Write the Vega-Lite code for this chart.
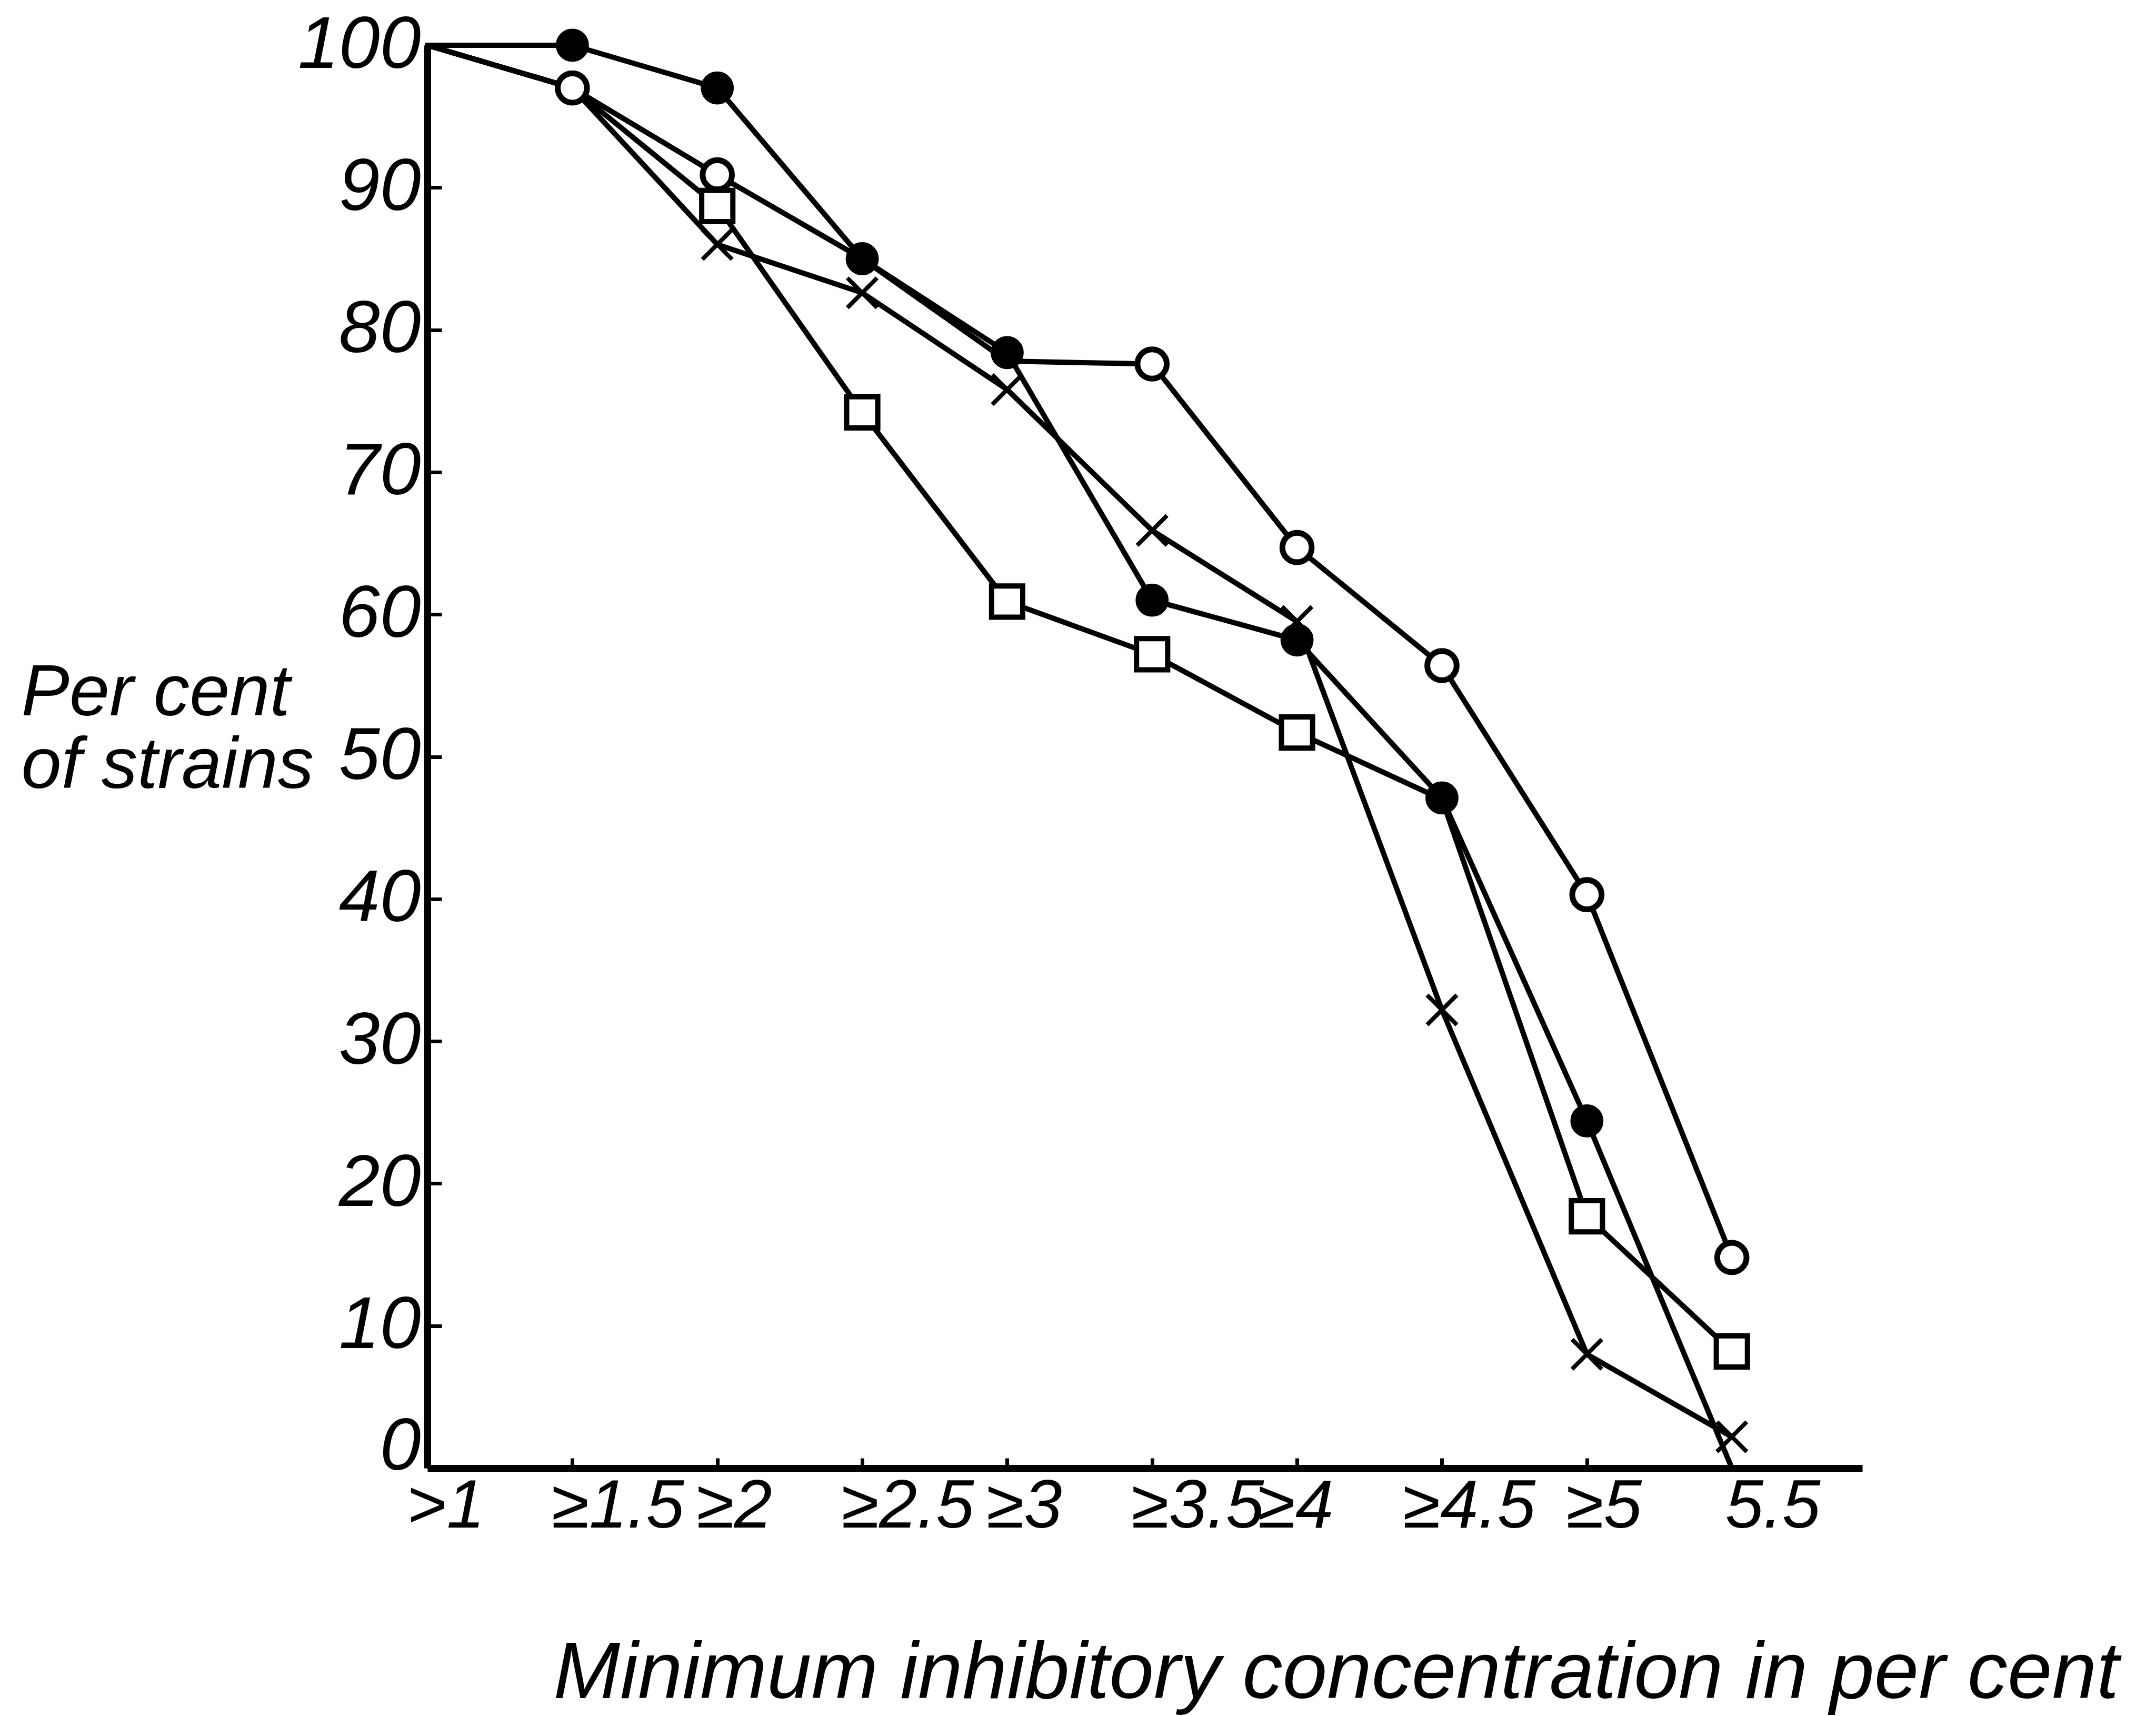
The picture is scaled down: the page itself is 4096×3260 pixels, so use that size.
{
  "$schema": "https://vega.github.io/schema/vega-lite/v6.json",
  "width": 2726,
  "height": 2703,
  "autosize": {"type": "none"},
  "padding": {"left": 812, "top": 86, "right": 558, "bottom": 471},
  "background": "white",
  "config": {"view": {"stroke": null}, "axis": {"grid": false}},
  "data": {
    "values": [
      {"series": "filled", "x": 1, "pct": 100},
      {"series": "filled", "x": 1.5, "pct": 100},
      {"series": "filled", "x": 2, "pct": 97},
      {"series": "filled", "x": 2.5, "pct": 85},
      {"series": "filled", "x": 3, "pct": 78.4},
      {"series": "filled", "x": 3.5, "pct": 61},
      {"series": "filled", "x": 4, "pct": 58.2},
      {"series": "filled", "x": 4.5, "pct": 47.1},
      {"series": "filled", "x": 5, "pct": 24.4},
      {"series": "filled", "x": 5.5, "pct": 0},
      {"series": "open", "x": 1, "pct": 100},
      {"series": "open", "x": 1.5, "pct": 97},
      {"series": "open", "x": 2, "pct": 90.9},
      {"series": "open", "x": 2.5, "pct": 85},
      {"series": "open", "x": 3, "pct": 77.8},
      {"series": "open", "x": 3.5, "pct": 77.6},
      {"series": "open", "x": 4, "pct": 64.7},
      {"series": "open", "x": 4.5, "pct": 56.4},
      {"series": "open", "x": 5, "pct": 40.3},
      {"series": "open", "x": 5.5, "pct": 14.8},
      {"series": "square", "x": 1, "pct": 100},
      {"series": "square", "x": 1.5, "pct": 97},
      {"series": "square", "x": 2, "pct": 88.7},
      {"series": "square", "x": 2.5, "pct": 74.2},
      {"series": "square", "x": 3, "pct": 60.9},
      {"series": "square", "x": 3.5, "pct": 57.2},
      {"series": "square", "x": 4, "pct": 51.7},
      {"series": "square", "x": 4.5, "pct": 47},
      {"series": "square", "x": 5, "pct": 17.7},
      {"series": "square", "x": 5.5, "pct": 8.2},
      {"series": "cross", "x": 1, "pct": 100},
      {"series": "cross", "x": 1.5, "pct": 97},
      {"series": "cross", "x": 2, "pct": 86},
      {"series": "cross", "x": 2.5, "pct": 82.6},
      {"series": "cross", "x": 3, "pct": 75.8},
      {"series": "cross", "x": 3.5, "pct": 65.9},
      {"series": "cross", "x": 4, "pct": 59.5},
      {"series": "cross", "x": 4.5, "pct": 32.2},
      {"series": "cross", "x": 5, "pct": 8},
      {"series": "cross", "x": 5.5, "pct": 2.2}
    ]
  },
  "encoding": {
    "x": {
      "field": "x",
      "type": "quantitative",
      "scale": {"domain": [1, 5.95], "nice": false, "zero": false},
      "axis": {
        "values": [1, 1.5, 2, 2.5, 3, 3.5, 4, 4.5, 5, 5.5],
        "format": "~g",
        "labelExpr": "datum.value == 1 ? '>1' : datum.value == 5.5 ? '5.5' : '≥' + datum.label",
        "domainColor": "black",
        "domainWidth": 13,
        "tickColor": "black",
        "tickWidth": 7,
        "tickSize": -19,
        "tickOpacity": {"condition": {"test": "datum.value == 1 || datum.value == 5.5", "value": 0}, "value": 1},
        "labelFont": "Liberation Sans, sans-serif",
        "labelFontSize": 130,
        "labelFontStyle": "italic",
        "labelColor": "black",
        "labelPadding": 28,
        "labelBaseline": "top",
        "labelAlign": "left",
        "labelOffset": {"condition": [{"test": "datum.value == 5.5", "value": -13}, {"test": "datum.value == 4 || datum.value == 4.5", "value": -75}], "value": -40},
        "labelLimit": 0,
        "labelFlush": false,
        "labelOverlap": false,
        "title": "Minimum inhibitory concentration in per cent",
        "titleFont": "Liberation Sans, sans-serif",
        "titleFontSize": 152,
        "titleFontStyle": "italic",
        "titleFontWeight": "normal",
        "titleColor": "black",
        "titleX": 1726,
        "titleY": 436,
        "titleAlign": "center",
        "titleBaseline": "alphabetic",
        "titleLimit": 0
      }
    },
    "y": {
      "field": "pct",
      "type": "quantitative",
      "scale": {"domain": [0, 100], "nice": false},
      "axis": {
        "values": [0, 10, 20, 30, 40, 50, 60, 70, 80, 90, 100],
        "domainColor": "black",
        "domainWidth": 13,
        "tickColor": "black",
        "tickWidth": 7,
        "tickSize": -27,
        "labelFont": "Liberation Sans, sans-serif",
        "labelFontSize": 140,
        "labelFontStyle": "italic",
        "labelColor": "black",
        "labelPadding": 40,
        "labelBaseline": "middle",
        "labelOffset": {"condition": {"test": "datum.value == 0", "value": -40}, "value": 0},
        "labelLimit": 0,
        "labelFlush": false,
        "labelOverlap": false,
        "title": ["Per cent", "of strains"],
        "titleFont": "Liberation Sans, sans-serif",
        "titleFontSize": 137,
        "titleFontStyle": "italic",
        "titleFontWeight": "normal",
        "titleColor": "black",
        "titleAngle": 0,
        "titleAlign": "left",
        "titleBaseline": "alphabetic",
        "titleLineHeight": 138,
        "titleLimit": 0,
        "titleX": -772,
        "titleY": 1272
      }
    }
  },
  "layer": [
    {
      "mark": {"type": "line", "color": "black", "strokeWidth": 10, "strokeJoin": "round", "strokeCap": "round"},
      "encoding": {"detail": {"field": "series"}}
    },
    {
      "transform": [{"filter": "datum.series == 'cross' && datum.x > 1.5"}],
      "mark": {"type": "point", "shape": "M-1,-1L1,1M1,-1L-1,1", "size": 3200, "filled": false, "stroke": "black", "strokeWidth": 8, "opacity": 1}
    },
    {
      "transform": [{"filter": "datum.series == 'square' && datum.x > 1.5 && datum.x != 4.5"}],
      "mark": {"type": "point", "shape": "square", "size": 3500, "filled": true, "fill": "white", "stroke": "black", "strokeWidth": 10, "opacity": 1}
    },
    {
      "transform": [{"filter": "datum.series == 'open' && datum.x > 1 && datum.x != 2.5 && datum.x != 3"}],
      "mark": {"type": "point", "shape": "circle", "size": 3100, "filled": true, "fill": "white", "stroke": "black", "strokeWidth": 11, "opacity": 1}
    },
    {
      "transform": [{"filter": "datum.series == 'filled' && datum.x > 1 && datum.pct > 0"}],
      "mark": {"type": "point", "shape": "circle", "size": 3700, "filled": true, "fill": "black", "stroke": "black", "strokeWidth": 2, "opacity": 1}
    }
  ]
}
